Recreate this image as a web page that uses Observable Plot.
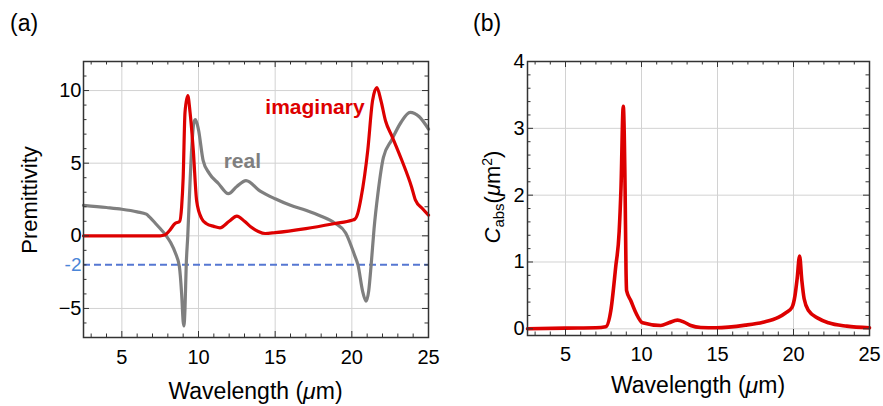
<!DOCTYPE html>
<html><head><meta charset="utf-8">
<script src="https://cdn.jsdelivr.net/npm/d3@7"></script>
<script src="https://cdn.jsdelivr.net/npm/@observablehq/plot@0.6"></script>
<style>
body{margin:0;background:#fff;font-family:"Liberation Sans",Arial,sans-serif}
#wrap{position:relative;width:883px;height:406px;overflow:hidden}
.panel{position:absolute;top:0}
</style>
</head><body>
<div id="wrap"><div id="pa" class="panel" style="left:0"></div><div id="pb" class="panel" style="left:440px"></div></div>
<script>
// ---------- data: panel (a) permittivity ----------
const realX = [2.5,4,5,6,6.6,6.8,7.2,7.5,7.9,8.2,8.5,8.75,8.9,9.0,9.05,9.12,9.2,9.3,9.4,9.55,9.7,9.8,10.0,10.3,10.7,11.3,11.95,12.5,13.1,14,15,16,17,18,18.9,19.6,20.2,20.4,20.7,20.93,21.1,21.26,21.45,21.7,22.06,22.6,23.2,23.8,24.4,25];
const realY = [2.1,1.95,1.83,1.65,1.49,1.3,0.85,0.5,0.0,-0.5,-1.2,-2.1,-4.0,-5.9,-6.2,-5.0,-2.0,0.0,2.5,5.9,7.8,8.0,7.3,5.2,4.3,3.6,2.9,3.4,3.8,3.1,2.55,2.1,1.76,1.35,0.87,0.2,-1.4,-2.0,-3.8,-4.5,-3.8,-2.0,0.5,2.9,5.4,6.6,7.8,8.5,8.2,7.35];
const imagX = [2.5,7.5,7.8,8.1,8.47,8.77,8.9,9.0,9.12,9.3,9.45,9.66,9.88,10.2,10.5,11.0,11.4,12.0,12.5,13.0,13.4,13.9,14.35,15,17,18.9,20.0,20.2,20.4,20.6,21.04,21.35,21.63,21.9,22.2,22.6,23.26,23.9,24.15,24.6,25];
const imagY = [0,0,0.05,0.35,0.85,1.0,2.0,4.0,8.5,9.65,8.5,5.9,2.4,1.2,0.85,0.65,0.55,1.0,1.35,1.0,0.62,0.3,0.16,0.22,0.5,0.85,1.07,1.15,1.6,2.6,5.9,9.3,10.2,9.3,7.9,6.9,5.2,3.35,2.45,1.88,1.42];
// ---------- data: panel (b) absorption cross-section ----------
const cabsX = [2.5,5,7,7.65,7.98,8.3,8.53,8.65,8.8,8.92,8.98,9.02,9.3,9.63,10.07,11.27,11.8,12.37,12.8,13.24,13.9,14.9,16.84,18,19.0,19.5,19.9,20.1,20.24,20.4,20.55,20.7,21.0,21.6,22.3,23.5,25];
const cabsY = [0.0,0.01,0.015,0.03,0.27,0.92,1.45,2.1,3.33,2.1,0.9,0.57,0.42,0.24,0.09,0.05,0.09,0.13,0.1,0.05,0.02,0.015,0.055,0.1,0.17,0.24,0.32,0.5,0.75,1.09,0.72,0.45,0.27,0.16,0.09,0.04,0.015];
// ---------- ticks & labels ----------
const xMajor = [5,10,15,20,25];
const xMinor = [3,4,6,7,8,9,11,12,13,14,16,17,18,19,21,22,23,24];
const xGrid = [5,10,15,20];
const yMajorA = [-5,0,5,10];
const yMinorA = [-7,-6,-4,-3,-2,-1,1,2,3,4,6,7,8,9,11,12];
const yMajorB = [0,1,2,3,4];
const yMinorB = [0.2,0.4,0.6,0.8,1.2,1.4,1.6,1.8,2.2,2.4,2.6,2.8,3.2,3.4,3.6,3.8];
const yGridB = [0,1,2,3];
const refLine = [-2];
const annotations = [
  {text:"imaginary", x:14.36, y:8.4, color:"#dd0000"},
  {text:"real", x:11.64, y:4.66, color:"#7f7f7f"}
];

const RED = "#dd0000", GRAY = "#7f7f7f", GRID = "#d2d2d2", FRAME = "#333";
const FONT = '"Liberation Sans", Arial, sans-serif';

function frameTicks(fw, fh, xMaj, xMin, yMaj, yMin) {
  const M = 6, m = 3.5, s = {stroke: FRAME, strokeWidth: 1};
  return [
    Plot.ruleX(xMaj, {...s, insetTop: fh - M}),
    Plot.ruleX(xMin, {...s, insetTop: fh - m}),
    Plot.ruleX(xMaj, {...s, insetBottom: fh - M}),
    Plot.ruleX(xMin, {...s, insetBottom: fh - m}),
    Plot.ruleY(yMaj, {...s, insetRight: fw - M}),
    Plot.ruleY(yMin, {...s, insetRight: fw - m}),
    Plot.ruleY(yMaj, {...s, insetLeft: fw - M}),
    Plot.ruleY(yMin, {...s, insetLeft: fw - m})
  ];
}

// ---------- panel (a) ----------
const A = {w:440, h:406, ml:83, mr:12, mt:61, mb:69};
const fwA = A.w - A.ml - A.mr, fhA = A.h - A.mt - A.mb;
const realData = realX.map((x,i)=>({x, y: realY[i]}));
const imagData = imagX.map((x,i)=>({x, y: imagY[i]}));
const plotA = Plot.plot({
  width: A.w, height: A.h,
  marginLeft: A.ml, marginRight: A.mr, marginTop: A.mt, marginBottom: A.mb,
  style: {fontFamily: FONT, fontSize: "20px", color: "#000", background: "transparent", overflow: "visible"},
  x: {domain: [2.5, 25]},
  y: {domain: [-7, 12]},
  marks: [
    Plot.ruleX(xGrid, {stroke: GRID, strokeWidth: 1}),
    Plot.ruleY(yMajorA, {stroke: GRID, strokeWidth: 1}),
    Plot.ruleY(refLine, {stroke: "#5577d2", strokeWidth: 2, strokeDasharray: "7,4"}),
    Plot.line(realData, {x: "x", y: "y", stroke: GRAY, strokeWidth: 3.2, curve: "monotone-x"}),
    Plot.line(imagData, {x: "x", y: "y", stroke: RED, strokeWidth: 3.2, curve: "monotone-x"}),
    Plot.text(annotations, {x: "x", y: "y", text: "text", fill: "color", fontWeight: "bold", fontSize: 21, textAnchor: "start", lineAnchor: "bottom"}),
    ...frameTicks(fwA, fhA, xMajor, xMinor, yMajorA, yMinorA),
    Plot.frame({stroke: FRAME, strokeWidth: 1.5}),
    Plot.axisX(xMajor, {tickSize: 0, tickPadding: 12, label: null, fontSize: 20, tickFormat: d => String(d)}),
    Plot.axisY(yMajorA, {tickSize: 0, tickPadding: 2, label: null, fontSize: 20}),
    Plot.axisY(refLine, {tickSize: 0, tickPadding: 2, label: null, fontSize: 19, fill: "#4a86d8", tickFormat: d => String(d)})
  ]
});
document.getElementById("pa").appendChild(plotA);

// ---------- panel (b) ----------
const B = {w:443, h:406, ml:87, mr:14, mt:61, mb:71};
const fwB = B.w - B.ml - B.mr, fhB = B.h - B.mt - B.mb;
const cabsData = cabsX.map((x,i)=>({x, y: cabsY[i]}));
const plotB = Plot.plot({
  width: B.w, height: B.h,
  marginLeft: B.ml, marginRight: B.mr, marginTop: B.mt, marginBottom: B.mb,
  style: {fontFamily: FONT, fontSize: "20px", color: "#000", background: "transparent", overflow: "visible"},
  x: {domain: [2.5, 25]},
  y: {domain: [-0.1, 4]},
  marks: [
    Plot.ruleX(xGrid, {stroke: GRID, strokeWidth: 1}),
    Plot.ruleY(yGridB, {stroke: GRID, strokeWidth: 1}),
    Plot.line(cabsData, {x: "x", y: "y", stroke: RED, strokeWidth: 3.6, curve: "monotone-x"}),
    ...frameTicks(fwB, fhB, xMajor, xMinor, yMajorB, yMinorB),
    Plot.frame({stroke: FRAME, strokeWidth: 1.5}),
    Plot.axisX(xMajor, {tickSize: 0, tickPadding: 11, label: null, fontSize: 20, tickFormat: d => String(d)}),
    Plot.axisY(yMajorB, {tickSize: 0, tickPadding: 3, label: null, fontSize: 20, tickFormat: d => String(d)})
  ]
});
document.getElementById("pb").appendChild(plotB);

// ---------- titles and rich-text axis labels ----------
function addText(svg, x, y, size, parts, rotate) {
  const t = d3.select(svg).append("text")
    .attr("transform", `translate(${x},${y})` + (rotate ? " rotate(-90)" : ""))
    .attr("text-anchor", "middle").attr("fill", "#000")
    .style("font-family", FONT).style("font-size", size + "px");
  for (const p of parts) {
    const s = t.append("tspan").text(p.t);
    if (p.i) s.style("font-style", "italic");
    if (p.size) s.style("font-size", p.size + "px");
    if (p.dy) s.attr("dy", p.dy);
  }
  return t;
}
function addTitle(svg, x, label) {
  d3.select(svg).append("text").attr("x", x).attr("y", 31)
    .attr("text-anchor", "start").attr("fill", "#000")
    .style("font-family", FONT).style("font-size", "23px").text(label);
}
addTitle(plotA, 10, "(a)");
addTitle(plotB, 33, "(b)");
addText(plotA, A.ml + fwA / 2, 399, 23, [{t: "Wavelength ("}, {t: "\u03bc", i: true}, {t: "m)"}]);
addText(plotB, B.ml + fwB / 2, 393, 23, [{t: "Wavelength ("}, {t: "\u03bc", i: true}, {t: "m)"}]);
addText(plotA, 37, 200, 22, [{t: "Premittivity"}], true);
addText(plotB, 60, 197, 22, [
  {t: "C", i: true}, {t: "abs", size: 15, dy: 4}, {t: "(", dy: -4}, {t: "\u03bc", i: true}, {t: "m"},
  {t: "2", size: 14, dy: -8}, {t: ")", dy: 8}
], true);
</script>
</body></html>
